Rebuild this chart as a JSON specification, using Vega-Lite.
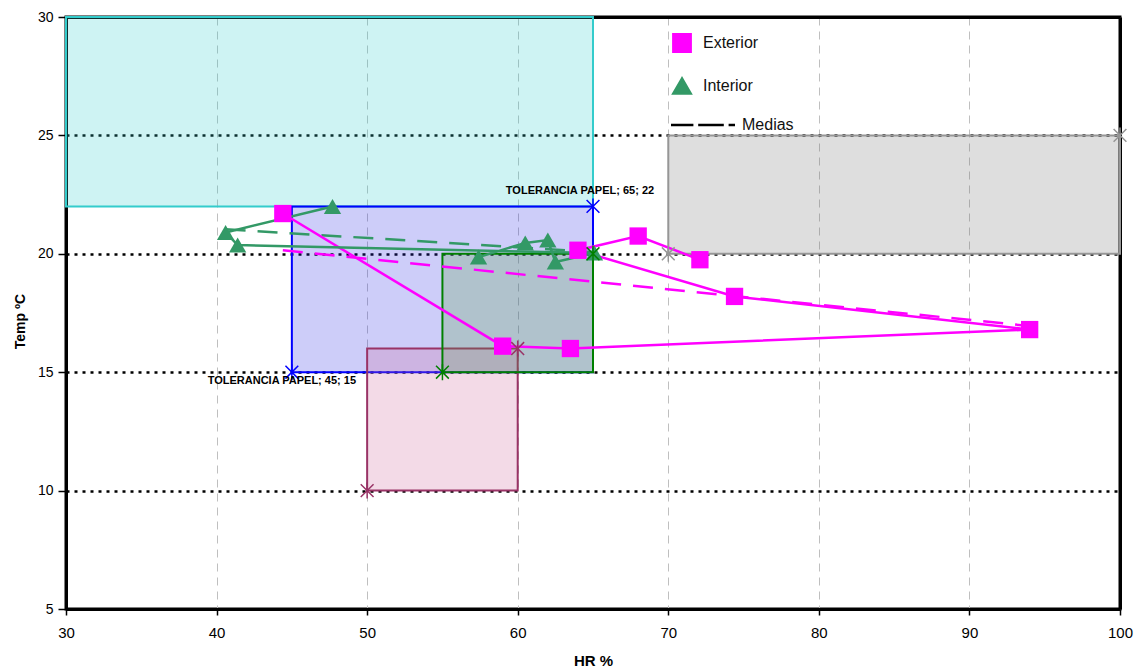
{
  "$schema": "https://vega.github.io/schema/vega-lite/v6.json",
  "width": 1054,
  "height": 592,
  "autosize": {"type": "none"},
  "padding": {"left": 66, "top": 17, "right": 17, "bottom": 61},
  "background": "white",
  "config": {
    "view": {"stroke": "#000000", "strokeWidth": 3},
    "axis": {"domainColor": "#000000", "domainWidth": 3, "tickColor": "#000000", "tickWidth": 1.5, "labelColor": "#000000", "titleColor": "#000000", "labelFont": "Liberation Sans", "titleFont": "Liberation Sans", "titleFontWeight": "bold", "labelFlush": false, "labelOverlap": false},
    "axisX": {"gridColor": "#bfbfbf", "gridDash": [8, 6], "gridWidth": 1, "tickSize": 6, "labelPadding": 10, "labelFontSize": 15, "titleFontSize": 15, "titleY": 51, "titleBaseline": "middle"},
    "axisY": {"gridColor": "#000000", "gridDash": [3, 5], "gridWidth": 2.5, "tickSize": 8, "labelPadding": 5, "labelFontSize": 14, "titleFontSize": 14, "titleX": -46, "titleY": 304, "titleAngle": -90, "titleBaseline": "middle", "titleAlign": "center"},
    "legend": {"orient": "none", "legendX": 605, "legendY": 16, "title": null, "padding": 0, "labelFont": "Liberation Sans", "labelFontSize": 16, "labelColor": "#111111", "rowPadding": 16, "symbolSize": 300}
  },
  "resolve": {"axis": {"x": "independent", "y": "independent"}},
  "datasets": {
    "zonas": [
      {"zona": "Cian", "hr": 30, "hr2": 65, "t": 22, "t2": 30},
      {"zona": "Azul", "hr": 45, "hr2": 65, "t": 15, "t2": 22},
      {"zona": "Granate", "hr": 50, "hr2": 60, "t": 10, "t2": 16},
      {"zona": "Verde", "hr": 55, "hr2": 65, "t": 15, "t2": 20},
      {"zona": "Gris", "hr": 70, "hr2": 100, "t": 20, "t2": 25}
    ],
    "esquinas": [
      {"zona": "Azul", "hr": 65, "t": 22},
      {"zona": "Azul", "hr": 45, "t": 15},
      {"zona": "Verde", "hr": 55, "t": 15},
      {"zona": "Verde", "hr": 65, "t": 20},
      {"zona": "Granate", "hr": 50, "t": 10},
      {"zona": "Granate", "hr": 60, "t": 16},
      {"zona": "Gris", "hr": 70, "t": 20},
      {"zona": "Gris", "hr": 100, "t": 25}
    ],
    "medidas": [
      {"serie": "Exterior", "i": 1, "hr": 44.4, "t": 21.7},
      {"serie": "Exterior", "i": 2, "hr": 59.0, "t": 16.1},
      {"serie": "Exterior", "i": 3, "hr": 63.5, "t": 16.0},
      {"serie": "Exterior", "i": 4, "hr": 94.0, "t": 16.8},
      {"serie": "Exterior", "i": 5, "hr": 74.4, "t": 18.2},
      {"serie": "Exterior", "i": 6, "hr": 64.0, "t": 20.15},
      {"serie": "Exterior", "i": 7, "hr": 68.0, "t": 20.75},
      {"serie": "Exterior", "i": 8, "hr": 72.1, "t": 19.75},
      {"serie": "Interior", "i": 1, "hr": 47.7, "t": 22.0},
      {"serie": "Interior", "i": 2, "hr": 40.6, "t": 20.9},
      {"serie": "Interior", "i": 3, "hr": 41.4, "t": 20.37},
      {"serie": "Interior", "i": 4, "hr": 65.1, "t": 20.03},
      {"serie": "Interior", "i": 5, "hr": 62.5, "t": 19.65},
      {"serie": "Interior", "i": 6, "hr": 62.0, "t": 20.58},
      {"serie": "Interior", "i": 7, "hr": 60.5, "t": 20.46},
      {"serie": "Interior", "i": 8, "hr": 57.4, "t": 19.86}
    ],
    "medias": [
      {"serie": "Exterior", "hr": 44.4, "t": 20.15},
      {"serie": "Exterior", "hr": 94.0, "t": 16.95},
      {"serie": "Interior", "hr": 40.6, "t": 21.04},
      {"serie": "Interior", "hr": 65.1, "t": 20.07}
    ],
    "etiquetas": [
      {"hr": 65, "t": 22, "texto": "TOLERANCIA PAPEL; 65; 22", "pos": "arriba"},
      {"hr": 45, "t": 15, "texto": "TOLERANCIA PAPEL; 45; 15", "pos": "abajo"}
    ]
  },
  "layer": [
    {
      "data": {"name": "zonas"},
      "mark": {"type": "rect", "fillOpacity": 0.24, "strokeWidth": 2},
      "encoding": {
        "x": {"field": "hr", "type": "quantitative", "scale": {"domain": [30, 100], "nice": false, "zero": false}, "axis": {"values": [30, 40, 50, 60, 70, 80, 90, 100], "title": "HR %"}},
        "x2": {"field": "hr2"},
        "y": {"field": "t", "type": "quantitative", "scale": {"domain": [5, 30], "nice": false, "zero": false}, "axis": {"values": [5, 10, 15, 20, 25, 30], "title": "Temp ºC"}},
        "y2": {"field": "t2"},
        "fill": {"field": "zona", "type": "nominal", "scale": {"domain": ["Cian", "Azul", "Verde", "Granate", "Gris"], "range": ["#33CCCC", "#3030E8", "#55A040", "#CC6699", "#767676"]}, "legend": null},
        "stroke": {"field": "zona", "type": "nominal", "scale": {"domain": ["Cian", "Azul", "Verde", "Granate", "Gris"], "range": ["#33CCCC", "#0000FF", "#008000", "#993366", "#969696"]}, "legend": null}
      }
    },
    {
      "data": {"name": "medias"},
      "mark": {"type": "line", "strokeDash": [20, 12], "strokeWidth": 2.5},
      "encoding": {
        "x": {"field": "hr", "type": "quantitative", "axis": null},
        "y": {"field": "t", "type": "quantitative", "axis": null},
        "color": {"field": "serie", "type": "nominal", "scale": {"domain": ["Exterior", "Interior", "Medias"], "range": ["#FF00FF", "#339966", "#000000"]}, "legend": {
          "encode": {
            "symbols": {"update": {"fill": {"signal": "datum.value === 'Medias' ? 'transparent' : scale('color', datum.value)"}, "stroke": {"signal": "datum.value === 'Medias' ? '#000000' : 'transparent'"}, "strokeWidth": {"value": 2.5}, "strokeDash": {"value": []}, "opacity": {"value": 1}, "size": {"signal": "datum.value === 'Medias' ? 4096 : 300"}, "x": {"signal": "datum.value === 'Medias' ? 32 : 11"}}},
            "labels": {"update": {"x": {"signal": "datum.value === 'Medias' ? 71 : 32"}}}
          }}}
      }
    },
    {
      "data": {"name": "medidas"},
      "mark": {"type": "line", "strokeWidth": 2.5},
      "encoding": {
        "x": {"field": "hr", "type": "quantitative", "axis": null},
        "y": {"field": "t", "type": "quantitative", "axis": null},
        "order": {"field": "i", "type": "quantitative"},
        "color": {"field": "serie", "type": "nominal", "legend": {
          "encode": {
            "symbols": {"update": {"fill": {"signal": "datum.value === 'Medias' ? 'transparent' : scale('color', datum.value)"}, "stroke": {"signal": "datum.value === 'Medias' ? '#000000' : 'transparent'"}, "strokeWidth": {"value": 2.5}, "strokeDash": {"value": []}, "opacity": {"value": 1}, "size": {"signal": "datum.value === 'Medias' ? 4096 : 300"}, "x": {"signal": "datum.value === 'Medias' ? 32 : 11"}}},
            "labels": {"update": {"x": {"signal": "datum.value === 'Medias' ? 71 : 32"}}}
          }}}
      }
    },
    {
      "data": {"name": "medidas"},
      "mark": {"type": "point", "filled": true, "opacity": 1, "size": 300, "strokeWidth": 0},
      "encoding": {
        "x": {"field": "hr", "type": "quantitative", "axis": null},
        "y": {"field": "t", "type": "quantitative", "axis": null},
        "color": {"field": "serie", "type": "nominal", "legend": {
          "encode": {
            "symbols": {"update": {"fill": {"signal": "datum.value === 'Medias' ? 'transparent' : scale('color', datum.value)"}, "stroke": {"signal": "datum.value === 'Medias' ? '#000000' : 'transparent'"}, "strokeWidth": {"value": 2.5}, "strokeDash": {"value": []}, "opacity": {"value": 1}, "size": {"signal": "datum.value === 'Medias' ? 4096 : 300"}, "x": {"signal": "datum.value === 'Medias' ? 32 : 11"}}},
            "labels": {"update": {"x": {"signal": "datum.value === 'Medias' ? 71 : 32"}}}
          }}},
        "shape": {"field": "serie", "type": "nominal", "scale": {"domain": ["Exterior", "Interior", "Medias"], "range": ["square", "triangle-up", "M-1,0H-0.3M-0.15,0H0.65M0.8,0H1"]}, "legend": {
          "encode": {
            "symbols": {"update": {"fill": {"signal": "datum.value === 'Medias' ? 'transparent' : scale('color', datum.value)"}, "stroke": {"signal": "datum.value === 'Medias' ? '#000000' : 'transparent'"}, "strokeWidth": {"value": 2.5}, "strokeDash": {"value": []}, "opacity": {"value": 1}, "size": {"signal": "datum.value === 'Medias' ? 4096 : 300"}, "x": {"signal": "datum.value === 'Medias' ? 32 : 11"}}},
            "labels": {"update": {"x": {"signal": "datum.value === 'Medias' ? 71 : 32"}}}
          }}}
      }
    },
    {
      "data": {"name": "esquinas"},
      "mark": {"type": "point", "shape": "M0,-1V1M-0.8,-0.8L0.8,0.8M-0.8,0.8L0.8,-0.8", "size": 256, "filled": false, "opacity": 1, "strokeWidth": 1.5},
      "encoding": {
        "x": {"field": "hr", "type": "quantitative", "axis": {"orient": "top", "labels": false, "ticks": false, "grid": false, "title": null, "domainWidth": 3, "domainColor": "#000000"}},
        "y": {"field": "t", "type": "quantitative", "axis": {"orient": "right", "labels": false, "ticks": false, "grid": false, "title": null, "domainWidth": 3, "domainColor": "#000000"}},
        "stroke": {"field": "zona", "type": "nominal", "legend": null}
      }
    },
    {
      "data": {"name": "etiquetas"},
      "transform": [{"filter": "datum.pos === 'arriba'"}],
      "mark": {"type": "text", "font": "Liberation Sans", "fontSize": 11, "fontWeight": "bold", "color": "#000000", "align": "center", "baseline": "middle", "dx": -13, "dy": -15},
      "encoding": {
        "x": {"field": "hr", "type": "quantitative", "axis": null},
        "y": {"field": "t", "type": "quantitative", "axis": null},
        "text": {"field": "texto"}
      }
    },
    {
      "data": {"name": "etiquetas"},
      "transform": [{"filter": "datum.pos === 'abajo'"}],
      "mark": {"type": "text", "font": "Liberation Sans", "fontSize": 11, "fontWeight": "bold", "color": "#000000", "align": "center", "baseline": "middle", "dx": -10, "dy": 9},
      "encoding": {
        "x": {"field": "hr", "type": "quantitative", "axis": null},
        "y": {"field": "t", "type": "quantitative", "axis": null},
        "text": {"field": "texto"}
      }
    }
  ]
}
